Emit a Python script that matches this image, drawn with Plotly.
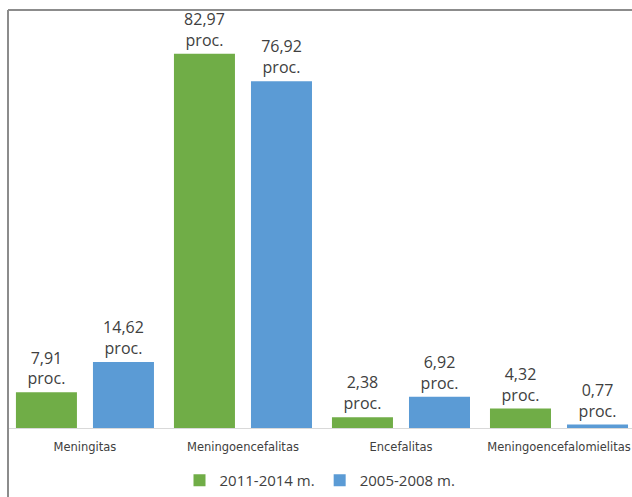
import plotly.graph_objects as go

categories = ["Meningitas", "Meningoencefalitas", "Encefalitas", "Meningoencefalomielitas"]
series_names = ["2011-2014 m.", "2005-2008 m."]
values_2011 = [7.91, 82.97, 2.38, 4.32]
values_2005 = [14.62, 76.92, 6.92, 0.77]
colors = ["#70AD47", "#5B9BD5"]


def fmt(v):
    return f"{v:.2f}".replace(".", ",") + "<br>proc."


fig = go.Figure()
for name, vals, col in zip(series_names, [values_2011, values_2005], colors):
    fig.add_trace(go.Bar(
        x=categories, y=vals, name=name, marker=dict(color=col, line=dict(width=0)),
        text=[fmt(v) for v in vals], textposition="outside",
        textfont=dict(family="Open Sans", size=16, color="#404040"),
        cliponaxis=False,
    ))

fig.update_layout(
    width=632, height=497,
    margin=dict(l=8, r=0, t=10, b=68),
    paper_bgcolor="white", plot_bgcolor="white",
    barmode="group", bargap=0.025, bargroupgap=0.208,
    showlegend=True,
    legend=dict(orientation="h", x=0.5, xanchor="center", y=-0.085, yanchor="top",
                font=dict(family="Open Sans", size=15, color="#404040"),
                traceorder="normal"),
    xaxis=dict(range=[-0.487, 3.462], showline=True, linecolor="#D9D9D9", linewidth=1,
               showgrid=False, ticks="", ticklabelstandoff=8,
               tickfont=dict(family="DejaVu Sans", size=11.5, color="#404040")),
    yaxis=dict(range=[0, 92.7], visible=False, showgrid=False, zeroline=False),
    shapes=[
        dict(type="line", xref="paper", yref="paper", x0=0, x1=1.05, y0=1, y1=1,
             line=dict(color="#8C8C8C", width=2)),
        dict(type="line", xref="paper", yref="paper", x0=0, x1=0, y0=1, y1=-0.3,
             line=dict(color="#8C8C8C", width=2)),
    ],
)

fig.write_html("out.html")
